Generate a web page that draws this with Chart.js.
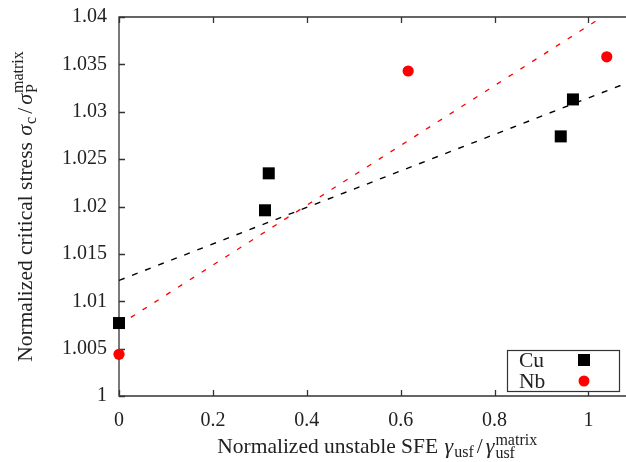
<!DOCTYPE html>
<html>
<head>
<meta charset="utf-8">
<script src="https://cdn.jsdelivr.net/npm/chart.js@4/dist/chart.umd.min.js"></script>
<style>
  html, body { margin: 0; padding: 0; background: #fff; overflow: hidden; }
  canvas { display: block; }
</style>
</head>
<body>
<canvas id="c" width="626" height="462"></canvas>
<script>
// Cu and Nb results: normalized unstable SFE vs normalized critical stress
const cuX = [0, 0.311, 0.319, 0.941, 0.967];
const cuY = [1.0077, 1.0196, 1.0235, 1.0274, 1.0313];
const nbX = [0, 0.616, 1.039];
const nbY = [1.0044, 1.0343, 1.0358];

// Linear fits (end points)
const cuFitX = [0, 1.08];
const cuFitY = [1.0122, 1.0330];
const nbFitX = [0, 1.08];
const nbFitY = [1.0075, 1.0416];

const xTickLabels = ['0', '0.2', '0.4', '0.6', '0.8', '1'];
const yTickLabels = ['1', '1.005', '1.01', '1.015', '1.02', '1.025', '1.03', '1.035', '1.04'];
const seriesNames = ['Cu', 'Nb'];

const FAMILY = "'Liberation Serif', 'DejaVu Serif', serif";
const MAIN = "21.5px " + FAMILY;
const ITAL = "italic 22px " + FAMILY;
const SCRIPT = "16px " + FAMILY;
const TEXT = '#222';
const AXIS = '#333';

const pts = (xs, ys) => xs.map((x, i) => ({ x, y: ys[i] }));
const labelFor = (list) => (v) => {
  const hit = list.find(l => Math.abs(parseFloat(l) - v) < 1e-9);
  return hit === undefined ? '' : hit;
};

// Text runs with sub/superscripts; `gap` adds spacing after a piece
function measureParts(ctx, parts) {
  let w = 0;
  parts.forEach(p => {
    ctx.font = p.f;
    if (p.sub !== undefined) {
      p.w = Math.max(ctx.measureText(p.sub).width, ctx.measureText(p.sup).width);
    } else {
      p.w = ctx.measureText(p.t).width;
    }
    p.w += (p.gap || 0);
    w += p.w;
  });
  return w;
}
function drawParts(ctx, parts, x, y) {
  parts.forEach(p => {
    ctx.font = p.f;
    if (p.sub !== undefined) {
      ctx.fillText(p.sub, x, y + p.dySub);
      ctx.fillText(p.sup, x, y + p.dySup);
    } else {
      ctx.fillText(p.t, x, y + (p.dy || 0));
    }
    x += p.w;
  });
}

const xTitle = [
  { t: 'Normalized unstable SFE ', f: MAIN, gap: 1 },
  { t: 'γ', f: ITAL, gap: 1 },
  { t: 'usf', f: SCRIPT, dy: 4, gap: 3 },
  { t: '/', f: MAIN, gap: 3 },
  { t: 'γ', f: ITAL, gap: 1 },
  { sub: 'usf', sup: 'matrix', f: SCRIPT, dySub: 5, dySup: -8 }
];
const yTitle = [
  { t: 'Normalized critical stress ', f: MAIN, gap: 1 },
  { t: 'σ', f: ITAL, gap: 1 },
  { t: 'c', f: SCRIPT, dy: 4, gap: 3 },
  { t: '/', f: MAIN, gap: 3 },
  { t: 'σ', f: ITAL, gap: 1 },
  { sub: 'P', sup: 'matrix', f: SCRIPT, dySub: 5, dySup: -9 }
];

const framePlugin = {
  id: 'frame',
  beforeDatasetsDraw(chart) {
    const { ctx, chartArea: a, scales: { x, y } } = chart;
    ctx.save();
    ctx.strokeStyle = AXIS;
    ctx.lineWidth = 1.3;
    ctx.beginPath();
    ctx.moveTo(a.right + 2, a.top);
    ctx.lineTo(a.left, a.top);
    ctx.lineTo(a.left, a.bottom);
    ctx.lineTo(a.right + 2, a.bottom);
    ctx.stroke();
    ctx.beginPath();
    x.ticks.forEach(t => {
      const px = Math.round(x.getPixelForValue(t.value)) + 0.5;
      ctx.moveTo(px, a.bottom); ctx.lineTo(px, a.bottom - 6);
      ctx.moveTo(px, a.top); ctx.lineTo(px, a.top + 6);
    });
    y.ticks.forEach(t => {
      const py = Math.round(y.getPixelForValue(t.value)) + 0.5;
      ctx.moveTo(a.left, py); ctx.lineTo(a.left + 6, py);
    });
    ctx.stroke();
    ctx.restore();
  },
  afterDatasetsDraw(chart) {
    const { ctx } = chart;
    // key box
    ctx.save();
    ctx.fillStyle = '#fff';
    ctx.fillRect(507.5, 350.5, 112, 41);
    ctx.strokeStyle = AXIS;
    ctx.lineWidth = 1.2;
    ctx.strokeRect(507.5, 350.5, 112, 41);
    ctx.font = MAIN;
    ctx.fillStyle = TEXT;
    ctx.textBaseline = 'middle';
    ctx.textAlign = 'left';
    const rows = [360, 381];
    seriesNames.forEach((name, i) => {
      ctx.fillText(name, 519, rows[i] + 1);
      const ds = chart.data.datasets[i];
      ctx.fillStyle = ds.backgroundColor;
      if (ds.pointStyle === 'rect') {
        ctx.fillRect(578, rows[i] - 6, 12, 12);
      } else {
        ctx.beginPath();
        ctx.arc(584, rows[i], 5.5, 0, Math.PI * 2);
        ctx.fill();
      }
      ctx.fillStyle = TEXT;
    });
    ctx.restore();
  },
  afterDraw(chart) {
    const { ctx, scales: { x, y } } = chart;
    ctx.save();
    ctx.fillStyle = TEXT;
    ctx.textAlign = 'left';
    ctx.textBaseline = 'alphabetic';
    // x title, centred on the full plot frame
    const wx = measureParts(ctx, xTitle);
    const cx = x.getPixelForValue(0.55);
    drawParts(ctx, xTitle, cx - wx / 2, 452.5);
    // y title, rotated
    const wy = measureParts(ctx, yTitle);
    const cy = (y.getPixelForValue(1) + y.getPixelForValue(1.04)) / 2;
    ctx.translate(31.5, cy);
    ctx.rotate(-Math.PI / 2);
    drawParts(ctx, yTitle, -wy / 2, 0);
    ctx.restore();
  }
};

new Chart(document.getElementById('c'), {
  type: 'scatter',
  data: {
    datasets: [
      {
        label: seriesNames[0],
        data: pts(cuX, cuY),
        pointStyle: 'rect',
        radius: 8.5,
        backgroundColor: '#000',
        borderWidth: 0,
        clip: false,
        order: 0
      },
      {
        label: seriesNames[1],
        data: pts(nbX, nbY),
        pointStyle: 'circle',
        radius: 5.6,
        backgroundColor: '#ff0000',
        borderWidth: 0,
        clip: false,
        order: 0
      },
      {
        type: 'line',
        label: 'Cu fit',
        data: pts(cuFitX, cuFitY),
        borderColor: '#000',
        borderWidth: 1.4,
        borderDash: [6, 8],
        pointRadius: 0,
        fill: false,
        order: 1
      },
      {
        type: 'line',
        label: 'Nb fit',
        data: pts(nbFitX, nbFitY),
        borderColor: '#ff0000',
        borderWidth: 1.3,
        borderDash: [5, 9],
        pointRadius: 0,
        fill: false,
        order: 1
      }
    ]
  },
  options: {
    responsive: false,
    animation: false,
    devicePixelRatio: 1,
    layout: { autoPadding: false, padding: { top: 17, right: 0, left: 0, bottom: 0 } },
    plugins: {
      legend: { display: false },
      tooltip: { enabled: false },
      title: { display: false }
    },
    scales: {
      x: {
        type: 'linear',
        min: 0,
        max: 1.08,
        afterFit: (s) => { s.height = 66; s.paddingLeft = 0; s.paddingRight = 0; },
        grid: { display: false, drawTicks: false },
        border: { display: false },
        ticks: {
          stepSize: 0.2,
          includeBounds: false,
          padding: 13,
          maxRotation: 0,
          color: TEXT,
          font: { family: FAMILY, size: 20 },
          callback: labelFor(xTickLabels)
        }
      },
      y: {
        type: 'linear',
        min: 1,
        max: 1.04,
        afterFit: (s) => { s.width = 119; s.paddingTop = 0; s.paddingBottom = 0; },
        grid: { display: false, drawTicks: false },
        border: { display: false },
        ticks: {
          stepSize: 0.005,
          padding: 12,
          color: TEXT,
          font: { family: FAMILY, size: 20 },
          callback: labelFor(yTickLabels)
        }
      }
    }
  },
  plugins: [framePlugin]
});
</script>
</body>
</html>
